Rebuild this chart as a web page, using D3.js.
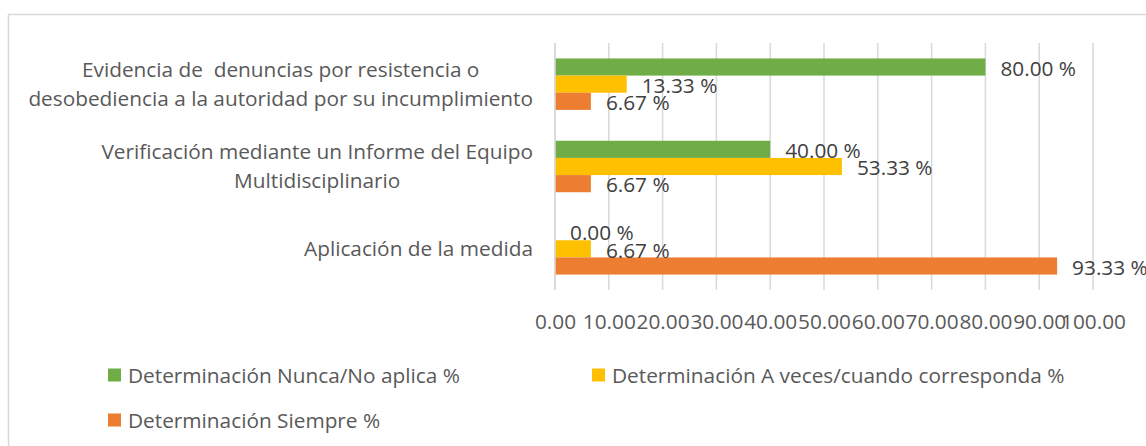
<!DOCTYPE html>
<html>
<head>
<meta charset="utf-8">
<script src="https://cdn.jsdelivr.net/npm/d3@7"></script>
<style>
  body { margin: 0; background: #fff; }
  svg text { font-family: "Open Sans", sans-serif; white-space: pre; }
</style>
</head>
<body>
<svg></svg>
<script>
// categories top to bottom, "\n" marks the line breaks of the axis labels
var categories = [
  "Evidencia de  denuncias por resistencia o\ndesobediencia a la autoridad por su incumplimiento",
  "Verificación mediante un Informe del Equipo\nMultidisciplinario",
  "Aplicación de la medida"
];
var seriesNames = [
  "Determinación Nunca/No aplica %",
  "Determinación A veces/cuando corresponda %",
  "Determinación Siempre %"
];
var seriesColors = ["#70AD47", "#FFC000", "#ED7D31"];
var nunca = [80.00, 40.00, 0.00];
var aveces = [13.33, 53.33, 6.67];
var siempre = [6.67, 6.67, 93.33];
var tickValues = [0, 10, 20, 30, 40, 50, 60, 70, 80, 90, 100];

var svgWidth = 1146, svgHeight = 446;
var fontSize = "20.8px";
var svg = d3.select("svg")
  .attr("width", svgWidth)
  .attr("height", svgHeight);

// chart area border (right and bottom fall outside the picture)
svg.append("rect")
  .attr("x", 8.5).attr("y", 14.5)
  .attr("width", 1160).attr("height", 460)
  .attr("fill", "none")
  .attr("stroke", "#D9D9D9")
  .attr("stroke-width", 1.5);

var x = d3.scaleLinear().domain([0, 100]).range([555, 1093]);
var y = d3.scaleBand().domain(categories).range([43, 290])
  .paddingInner(0.375).paddingOuter(0.1875);
var ySeries = d3.scaleBand().domain(d3.range(3)).range([0, y.bandwidth()]);

var values = [nunca, aveces, siempre];

// gridlines
svg.selectAll(".grid")
  .data(tickValues)
  .enter()
  .append("line")
  .attr("x1", function (d) { return x(d); })
  .attr("x2", function (d) { return x(d); })
  .attr("y1", 43)
  .attr("y2", 290)
  .attr("stroke", "#D9D9D9")
  .attr("stroke-width", 1.5);

// x axis tick labels
var xAxis = d3.axisBottom(x)
  .tickValues(tickValues)
  .tickFormat(d3.format(".2f"))
  .tickSize(0)
  .tickPadding(0);
var gx = svg.append("g").attr("transform", "translate(0,313)").call(xAxis);
gx.select(".domain").remove();
gx.selectAll("text")
  .attr("font-size", fontSize)
  .attr("font-family", "Open Sans")
  .attr("fill", "#595959")
  .attr("dy", "0.75em");

// bars
var groups = svg.selectAll(".cat")
  .data(categories)
  .enter()
  .append("g")
  .attr("transform", function (d) { return "translate(0," + y(d) + ")"; });

groups.each(function (cat, ci) {
  var g = d3.select(this);
  var rows = values.map(function (v, si) { return { s: si, v: v[ci] }; });
  g.selectAll("rect")
    .data(rows)
    .enter()
    .append("rect")
    .attr("x", x(0))
    .attr("y", function (d) { return ySeries(d.s); })
    .attr("width", function (d) { return x(d.v) - x(0); })
    .attr("height", ySeries.bandwidth())
    .attr("fill", function (d) { return seriesColors[d.s]; });
  g.selectAll("text")
    .data(rows)
    .enter()
    .append("text")
    .text(function (d) { return d3.format(".2f")(d.v) + " %"; })
    .attr("x", function (d) { return x(d.v) + 15; })
    .attr("y", function (d) { return ySeries(d.s) + ySeries.bandwidth() / 2 + 1.5; })
    .attr("dy", "0.35em")
    .attr("font-size", fontSize)
    .attr("fill", "#404040");
});

// vertical axis line
svg.append("line")
  .attr("x1", x(0)).attr("x2", x(0))
  .attr("y1", 43).attr("y2", 290)
  .attr("stroke", "#D9D9D9")
  .attr("stroke-width", 1.5);

// category labels: block right aligned, lines centred inside block
var labelRight = 533;
categories.forEach(function (cat) {
  var lines = cat.split("\n");
  var cy = y(cat) + y.bandwidth() / 2;
  var lineH = 29;
  var g = svg.append("g");
  var texts = lines.map(function (line, i) {
    return g.append("text")
      .text(line)
      .attr("y", cy + 7 + (i - (lines.length - 1) / 2) * lineH)
      .attr("font-size", fontSize)
      .attr("fill", "#595959")
      .attr("text-anchor", "middle");
  });
  var maxW = d3.max(texts, function (t) { return t.node().getComputedTextLength(); });
  texts.forEach(function (t) { t.attr("x", labelRight - maxW / 2); });
});

// legend
var legendPos = [[108, 375], [592, 375], [108, 420]];
var legend = svg.selectAll(".legend")
  .data(seriesNames)
  .enter()
  .append("g")
  .attr("transform", function (d, i) {
    return "translate(" + legendPos[i][0] + "," + legendPos[i][1] + ")";
  });
legend.append("rect")
  .attr("x", 0).attr("y", -6.5)
  .attr("width", 13).attr("height", 13)
  .attr("fill", function (d, i) { return seriesColors[i]; });
legend.append("text")
  .text(function (d) { return d; })
  .attr("x", 20)
  .attr("y", 7.5)
  .attr("font-size", fontSize)
  .attr("fill", "#595959");
</script>
</body>
</html>
